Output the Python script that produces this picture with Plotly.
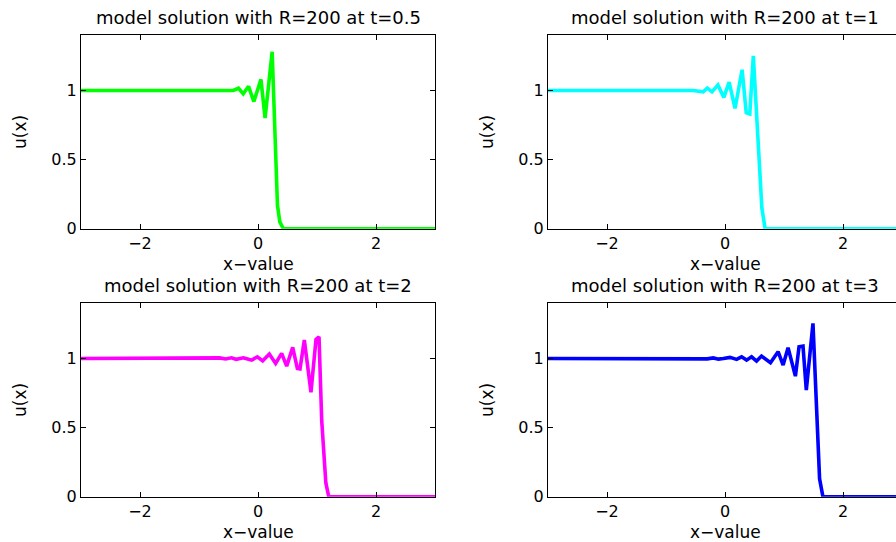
import plotly.graph_objects as go

# Burgers-type model solution u(x) at four times (R = 200)
times = ["0.5", "1", "2", "3"]
colors = ["#00ff00", "#00ffff", "#ff00ff", "#0000ff"]

x_t05 = [-3.0, -0.42, -0.33, -0.25, -0.16, -0.07, 0.05, 0.12, 0.24, 0.33, 0.37, 0.43, 3.0]
u_t05 = [1.0, 1.0, 1.016, 0.976, 1.03, 0.92, 1.08, 0.80, 1.28, 0.17, 0.05, 0.0, 0.0]

x_t1 = [-3.0, -0.54, -0.37, -0.30, -0.22, -0.12, -0.02, 0.07, 0.17, 0.29, 0.36, 0.42,
        0.48, 0.575, 0.625, 0.68, 3.0]
u_t1 = [1.0, 1.0, 0.99, 1.017, 0.99, 1.04, 0.95, 1.06, 0.87, 1.15, 0.84, 0.83,
        1.25, 0.55, 0.15, 0.0, 0.0]

x_t2 = [-3.0, -0.75, -0.65, -0.55, -0.45, -0.37, -0.305, -0.249, -0.192, -0.107, -0.011,
        0.079, 0.192, 0.299, 0.401, 0.486, 0.588, 0.667, 0.712, 0.785, 0.898, 0.983,
        1.034, 1.08, 1.15, 1.2, 3.0]
u_t2 = [1.0, 1.0, 1.004, 0.996, 1.005, 0.994, 0.998, 1.005, 0.998, 0.988, 1.012,
        0.983, 1.032, 0.964, 1.037, 0.945, 1.08, 0.928, 0.925, 1.133, 0.756, 1.138,
        1.157, 0.55, 0.1, 0.0, 0.0]

x_t3 = [-3.0, -0.5, -0.4, -0.3, -0.2, -0.11, -0.028, 0.084, 0.197, 0.281, 0.366, 0.45,
        0.535, 0.619, 0.771, 0.9, 0.985, 1.069, 1.193, 1.255, 1.322, 1.378, 1.491,
        1.603, 1.66, 3.0]
u_t3 = [1.0, 1.0, 1.003, 0.997, 1.004, 0.995, 1.0, 1.008, 0.993, 1.012, 0.988, 1.012,
        0.981, 1.017, 0.969, 1.049, 0.952, 1.078, 0.872, 1.085, 1.09, 0.771, 1.254,
        0.13, 0.0, 0.0]

xs = [x_t05, x_t1, x_t2, x_t3]
us = [u_t05, u_t1, u_t2, u_t3]

x_ticks = [-2, 0, 2]
y_ticks = [0, 0.5, 1]
y_tick_text = ["0", "0.5", "1"]

# panel geometry in screen pixels (from the top-left corner of a 896x542 view)
W, H_VIEW = 896, 542
H = 554                      # page height in CSS pixels
SY = H / H_VIEW
col_px = [(81, 435), (548, 896)]
row_px = [(35, 228), (302, 495)]
px_per_unit = 59.0
x_min = -3.0


def py(v):
    """Paper y coordinate of a screen row."""
    return 1 - v * SY / H


FONT = "DejaVu Sans"

fig = go.Figure()
annotations = []

for k in range(4):
    r, c = divmod(k, 2)
    ax = "" if k == 0 else str(k + 1)
    left, right = col_px[c]
    top, bottom = row_px[r]
    x_max = x_min + (right - left) / px_per_unit

    fig.add_trace(go.Scatter(
        x=xs[k], y=us[k], mode="lines",
        line=dict(color=colors[k], width=3.6),
        xaxis="x" + ax, yaxis="y" + ax, showlegend=False, hoverinfo="skip",
    ))

    fig.update_layout(**{
        "xaxis" + ax: dict(
            domain=[left / W, right / W], range=[x_min, x_max],
            anchor="y" + ax, tickvals=x_ticks, ticks="inside", ticklen=5,
            tickcolor="black", showline=True, linecolor="black", linewidth=1,
            mirror="ticks", showgrid=False, zeroline=False,
            tickfont=dict(family=FONT, size=16, color="black"),
        ),
        "yaxis" + ax: dict(
            domain=[py(bottom), py(top)], range=[0, 1.4],
            anchor="x" + ax, tickvals=y_ticks, ticktext=y_tick_text,
            ticks="inside", ticklen=5, tickcolor="black", showline=True,
            linecolor="black", linewidth=1,
            mirror="ticks" if c == 0 else False,
            showgrid=False, zeroline=False,
            tickfont=dict(family=FONT, size=16, color="black"),
        ),
    })

    cx = (left + left + 354) / 2
    annotations.append(dict(
        text="model solution with R=200 at t=" + times[k],
        x=cx / W, y=py(top - 18), xref="paper", yref="paper",
        xanchor="center", yanchor="middle", showarrow=False,
        font=dict(family=FONT, size=18, color="black"),
    ))
    annotations.append(dict(
        text="x\u2212value", x=cx / W, y=py(bottom + 35),
        xref="paper", yref="paper", xanchor="center", yanchor="middle",
        showarrow=False, font=dict(family=FONT, size=17, color="black"),
    ))
    annotations.append(dict(
        text="u(x)", x=(left - 61) / W, y=py((top + bottom) / 2),
        xref="paper", yref="paper", xanchor="center", yanchor="middle",
        textangle=-90, showarrow=False,
        font=dict(family=FONT, size=17, color="black"),
    ))

fig.update_layout(
    width=W, height=H, margin=dict(l=0, r=0, t=0, b=0),
    paper_bgcolor="white", plot_bgcolor="white",
    annotations=annotations,
)

fig.write_html("out.html")
